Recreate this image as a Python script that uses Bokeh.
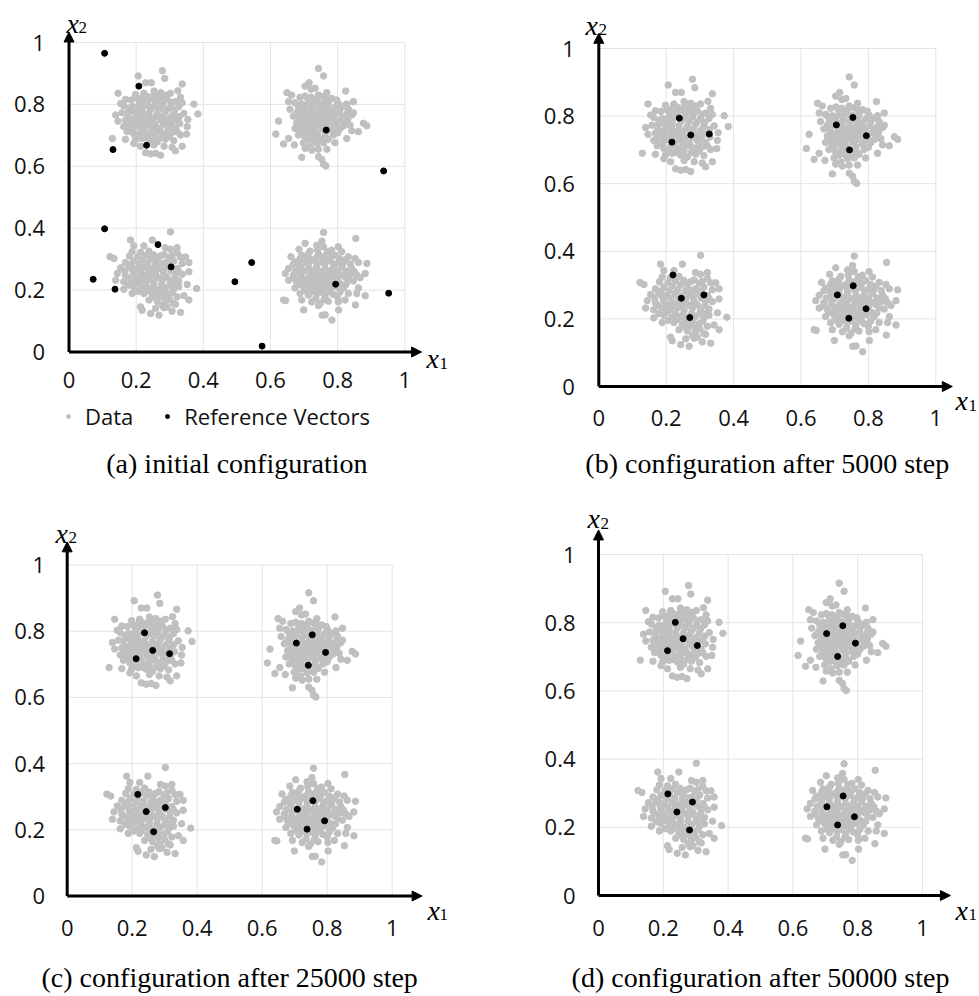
from bokeh.plotting import figure
from bokeh.layouts import column, row
from bokeh.models import (Arrow, NormalHead, Label, Legend, LegendItem,
                          FixedTicker, NumeralTickFormatter)
from bokeh.embed import file_html
from bokeh.resources import INLINE

# ---------------- data ----------------
TICKS = [0, 0.2, 0.4, 0.6, 0.8, 1]
TICK_LABELS = ["0", "0.2", "0.4", "0.6", "0.8", "1"]

cluster_tl = [
    (0.278, 0.909), (0.206, 0.892), (0.285, 0.884), (0.228, 0.870), (0.245, 0.870), (0.337, 0.866),
    (0.146, 0.836), (0.198, 0.832), (0.223, 0.836), (0.253, 0.843), (0.273, 0.838), (0.324, 0.844),
    (0.221, 0.827), (0.263, 0.830), (0.287, 0.830), (0.302, 0.836),
    (0.168, 0.816), (0.185, 0.814), (0.203, 0.819), (0.223, 0.814), (0.243, 0.819), (0.268, 0.816),
    (0.292, 0.816), (0.332, 0.823), (0.317, 0.809), (0.337, 0.805), (0.154, 0.803),
    (0.163, 0.796), (0.188, 0.793), (0.208, 0.798), (0.233, 0.798), (0.253, 0.793), (0.278, 0.798),
    (0.302, 0.793), (0.327, 0.793), (0.372, 0.801),
    (0.139, 0.766), (0.158, 0.773), (0.178, 0.776), (0.198, 0.771), (0.218, 0.776), (0.238, 0.771),
    (0.263, 0.771), (0.287, 0.776), (0.312, 0.771), (0.342, 0.771), (0.384, 0.769),
    (0.146, 0.746), (0.168, 0.749), (0.188, 0.751), (0.208, 0.744), (0.228, 0.751), (0.248, 0.744),
    (0.273, 0.751), (0.292, 0.744), (0.317, 0.749), (0.354, 0.751),
    (0.163, 0.728), (0.183, 0.722), (0.203, 0.730), (0.223, 0.722), (0.243, 0.730), (0.268, 0.722),
    (0.292, 0.728), (0.317, 0.722), (0.352, 0.728),
    (0.173, 0.712), (0.193, 0.704), (0.213, 0.709), (0.238, 0.701), (0.258, 0.712), (0.283, 0.704),
    (0.307, 0.709), (0.332, 0.701), (0.350, 0.704),
    (0.129, 0.690), (0.168, 0.687), (0.198, 0.685), (0.218, 0.690), (0.243, 0.685), (0.263, 0.679),
    (0.287, 0.687), (0.312, 0.683),
    (0.193, 0.674), (0.213, 0.665), (0.253, 0.669), (0.283, 0.665), (0.307, 0.661), (0.337, 0.665),
    (0.228, 0.644), (0.243, 0.640), (0.258, 0.642), (0.273, 0.636), (0.317, 0.650),
    (0.178, 0.786), (0.198, 0.783), (0.218, 0.788), (0.243, 0.784), (0.268, 0.786), (0.292, 0.783),
    (0.315, 0.782), (0.175, 0.760), (0.196, 0.758), (0.217, 0.762), (0.238, 0.758), (0.258, 0.760),
    (0.281, 0.762), (0.303, 0.758), (0.328, 0.760), (0.173, 0.738), (0.194, 0.737), (0.216, 0.736),
    (0.236, 0.740), (0.257, 0.736), (0.281, 0.738), (0.305, 0.736), (0.330, 0.738), (0.190, 0.716),
    (0.226, 0.714), (0.248, 0.720), (0.272, 0.712), (0.296, 0.716), (0.322, 0.712), (0.205, 0.696),
    (0.228, 0.692), (0.253, 0.696), (0.275, 0.693), (0.298, 0.697), (0.212, 0.806), (0.235, 0.810),
    (0.258, 0.807), (0.282, 0.808), (0.305, 0.805), (0.232, 0.826), (0.252, 0.828), (0.275, 0.825),
]

cluster_tr = [
    (0.743, 0.916), (0.758, 0.892), (0.715, 0.870), (0.703, 0.859), (0.733, 0.852), (0.721, 0.849),
    (0.768, 0.838), (0.824, 0.843),
    (0.649, 0.838), (0.663, 0.830), (0.688, 0.823), (0.703, 0.827), (0.721, 0.823), (0.743, 0.830),
    (0.758, 0.825), (0.783, 0.819), (0.797, 0.814),
    (0.654, 0.809), (0.673, 0.805), (0.693, 0.801), (0.713, 0.805), (0.733, 0.809), (0.753, 0.803),
    (0.773, 0.809), (0.802, 0.803), (0.827, 0.801), (0.847, 0.809),
    (0.658, 0.784), (0.683, 0.780), (0.703, 0.787), (0.723, 0.782), (0.743, 0.784), (0.763, 0.787),
    (0.783, 0.780), (0.807, 0.784), (0.832, 0.784), (0.847, 0.773),
    (0.668, 0.762), (0.688, 0.758), (0.713, 0.766), (0.733, 0.760), (0.753, 0.762), (0.773, 0.758),
    (0.792, 0.766), (0.817, 0.760), (0.842, 0.766),
    (0.624, 0.746), (0.678, 0.741), (0.698, 0.744), (0.718, 0.739), (0.738, 0.744), (0.758, 0.739),
    (0.778, 0.744), (0.797, 0.736), (0.822, 0.741), (0.837, 0.733), (0.877, 0.739), (0.887, 0.731),
    (0.673, 0.722), (0.693, 0.715), (0.713, 0.719), (0.733, 0.712), (0.753, 0.722), (0.783, 0.717),
    (0.807, 0.722), (0.842, 0.715), (0.862, 0.712),
    (0.616, 0.704), (0.654, 0.690), (0.683, 0.701), (0.703, 0.693), (0.723, 0.701), (0.743, 0.693),
    (0.763, 0.698), (0.787, 0.701), (0.827, 0.690),
    (0.639, 0.672), (0.671, 0.669), (0.698, 0.676), (0.718, 0.665), (0.738, 0.674), (0.758, 0.676),
    (0.792, 0.676),
    (0.703, 0.658), (0.723, 0.652), (0.743, 0.655), (0.768, 0.655),
    (0.693, 0.629), (0.743, 0.631), (0.753, 0.622), (0.758, 0.607), (0.765, 0.601),
    (0.683, 0.795), (0.703, 0.793), (0.725, 0.796), (0.748, 0.794), (0.770, 0.797), (0.792, 0.792),
    (0.818, 0.794), (0.678, 0.772), (0.700, 0.773), (0.722, 0.770), (0.745, 0.773), (0.765, 0.771),
    (0.785, 0.770), (0.805, 0.772), (0.828, 0.770), (0.688, 0.751), (0.708, 0.752), (0.728, 0.750),
    (0.748, 0.752), (0.768, 0.749), (0.788, 0.752), (0.810, 0.751), (0.830, 0.752), (0.690, 0.730),
    (0.710, 0.729), (0.728, 0.727), (0.745, 0.733), (0.768, 0.730), (0.790, 0.728), (0.818, 0.731),
    (0.698, 0.708), (0.720, 0.708), (0.740, 0.704), (0.763, 0.710), (0.800, 0.708), (0.730, 0.686),
    (0.750, 0.684), (0.772, 0.687), (0.713, 0.686), (0.738, 0.818), (0.768, 0.820), (0.712, 0.816),
]

cluster_bl = [
    (0.302, 0.388), (0.183, 0.362), (0.248, 0.362),
    (0.193, 0.343), (0.223, 0.343), (0.287, 0.337), (0.302, 0.332), (0.322, 0.337),
    (0.122, 0.308), (0.134, 0.302), (0.188, 0.324), (0.213, 0.322), (0.238, 0.326), (0.283, 0.315),
    (0.307, 0.311), (0.332, 0.307), (0.347, 0.307),
    (0.168, 0.289), (0.193, 0.294), (0.218, 0.297), (0.243, 0.302), (0.263, 0.297), (0.287, 0.289),
    (0.312, 0.294), (0.337, 0.286), (0.357, 0.289),
    (0.154, 0.272), (0.178, 0.275), (0.203, 0.270), (0.228, 0.275), (0.248, 0.268), (0.268, 0.272),
    (0.292, 0.275),
    (0.144, 0.254), (0.168, 0.248), (0.193, 0.254), (0.218, 0.248), (0.238, 0.254), (0.258, 0.248),
    (0.283, 0.251), (0.317, 0.254), (0.337, 0.251), (0.357, 0.259),
    (0.139, 0.232), (0.163, 0.227), (0.188, 0.232), (0.213, 0.227), (0.233, 0.232), (0.253, 0.225),
    (0.278, 0.232), (0.302, 0.227), (0.327, 0.229), (0.352, 0.218),
    (0.163, 0.203), (0.193, 0.211), (0.218, 0.205), (0.243, 0.207), (0.263, 0.200), (0.287, 0.207),
    (0.312, 0.203), (0.327, 0.211), (0.380, 0.205),
    (0.188, 0.189), (0.223, 0.189), (0.248, 0.184), (0.273, 0.182), (0.297, 0.186), (0.322, 0.178),
    (0.342, 0.182),
    (0.238, 0.168), (0.263, 0.164), (0.287, 0.162), (0.312, 0.157), (0.357, 0.168),
    (0.213, 0.146), (0.278, 0.151), (0.292, 0.146), (0.317, 0.154),
    (0.218, 0.135), (0.258, 0.141), (0.283, 0.143), (0.307, 0.132), (0.332, 0.128),
    (0.243, 0.124), (0.268, 0.119),
    (0.180, 0.310), (0.205, 0.308), (0.228, 0.312), (0.252, 0.314), (0.272, 0.310), (0.298, 0.305),
    (0.322, 0.320), (0.185, 0.282), (0.210, 0.284), (0.235, 0.286), (0.258, 0.284), (0.280, 0.285),
    (0.302, 0.282), (0.322, 0.270), (0.166, 0.262), (0.190, 0.263), (0.214, 0.261), (0.236, 0.264),
    (0.258, 0.260), (0.280, 0.262), (0.304, 0.262), (0.326, 0.262), (0.176, 0.240), (0.200, 0.242),
    (0.225, 0.240), (0.246, 0.240), (0.268, 0.240), (0.292, 0.242), (0.315, 0.240), (0.178, 0.216),
    (0.202, 0.220), (0.228, 0.215), (0.252, 0.215), (0.276, 0.217), (0.300, 0.216), (0.318, 0.216),
    (0.206, 0.196), (0.232, 0.198), (0.256, 0.194), (0.278, 0.195), (0.308, 0.193), (0.255, 0.176),
    (0.283, 0.175), (0.300, 0.170),
]

cluster_br = [
    (0.758, 0.386), (0.854, 0.367), (0.753, 0.358),
    (0.703, 0.351), (0.738, 0.345), (0.758, 0.340), (0.802, 0.340), (0.685, 0.332), (0.718, 0.326),
    (0.782, 0.329), (0.812, 0.324),
    (0.661, 0.308), (0.693, 0.313), (0.713, 0.318), (0.743, 0.315), (0.763, 0.311), (0.792, 0.313),
    (0.832, 0.308), (0.852, 0.302),
    (0.673, 0.291), (0.703, 0.289), (0.723, 0.297), (0.753, 0.291), (0.778, 0.294), (0.802, 0.289),
    (0.822, 0.297), (0.862, 0.289), (0.887, 0.286),
    (0.654, 0.270), (0.688, 0.275), (0.713, 0.270), (0.738, 0.275), (0.763, 0.268), (0.787, 0.272),
    (0.812, 0.275), (0.842, 0.270),
    (0.644, 0.254), (0.668, 0.248), (0.693, 0.254), (0.718, 0.248), (0.738, 0.254), (0.763, 0.248),
    (0.787, 0.254), (0.812, 0.248), (0.837, 0.251), (0.857, 0.248), (0.882, 0.254),
    (0.654, 0.232), (0.678, 0.227), (0.703, 0.232), (0.723, 0.227), (0.743, 0.232), (0.768, 0.225),
    (0.787, 0.229), (0.807, 0.221), (0.832, 0.232), (0.847, 0.229), (0.867, 0.240),
    (0.673, 0.207), (0.698, 0.211), (0.718, 0.205), (0.738, 0.211), (0.758, 0.205), (0.778, 0.200),
    (0.817, 0.207), (0.862, 0.207),
    (0.688, 0.189), (0.713, 0.184), (0.738, 0.189), (0.763, 0.182), (0.787, 0.186), (0.807, 0.194),
    (0.832, 0.189), (0.857, 0.189), (0.882, 0.182),
    (0.639, 0.168), (0.645, 0.166), (0.693, 0.168), (0.723, 0.162), (0.748, 0.157), (0.772, 0.164),
    (0.802, 0.162), (0.822, 0.168), (0.853, 0.152),
    (0.743, 0.150), (0.699, 0.136), (0.803, 0.136), (0.754, 0.119), (0.763, 0.120), (0.783, 0.103),
    (0.688, 0.302), (0.710, 0.305), (0.735, 0.303), (0.758, 0.302), (0.780, 0.306), (0.806, 0.302),
    (0.770, 0.324), (0.740, 0.330), (0.668, 0.283), (0.690, 0.282), (0.713, 0.284), (0.738, 0.286),
    (0.762, 0.283), (0.790, 0.283), (0.815, 0.285), (0.838, 0.284), (0.675, 0.261), (0.700, 0.262),
    (0.725, 0.262), (0.750, 0.260), (0.775, 0.262), (0.800, 0.261), (0.825, 0.262), (0.850, 0.260),
    (0.668, 0.240), (0.690, 0.242), (0.713, 0.240), (0.735, 0.242), (0.756, 0.238), (0.778, 0.241),
    (0.800, 0.239), (0.822, 0.242), (0.688, 0.220), (0.712, 0.216), (0.735, 0.220), (0.756, 0.218),
    (0.776, 0.214), (0.795, 0.212), (0.825, 0.218), (0.705, 0.197), (0.726, 0.195), (0.750, 0.194),
    (0.775, 0.196), (0.800, 0.178), (0.735, 0.173), (0.760, 0.170),
]

# reference vectors of each configuration
ref_initial = [
    (0.106, 0.965), (0.208, 0.859), (0.131, 0.654), (0.231, 0.668), (0.766, 0.717), (0.937, 0.585),
    (0.106, 0.398), (0.265, 0.347), (0.304, 0.275), (0.072, 0.235), (0.137, 0.203), (0.494, 0.227),
    (0.544, 0.289), (0.794, 0.219), (0.952, 0.190), (0.575, 0.019),
]
ref_5000 = [
    (0.239, 0.794), (0.273, 0.744), (0.328, 0.747), (0.217, 0.723),
    (0.705, 0.774), (0.754, 0.796), (0.794, 0.742), (0.744, 0.700),
    (0.220, 0.330), (0.245, 0.261), (0.312, 0.271), (0.270, 0.204),
    (0.708, 0.271), (0.755, 0.298), (0.793, 0.230), (0.742, 0.202),
]
ref_25000 = [
    (0.238, 0.795), (0.263, 0.742), (0.315, 0.732), (0.212, 0.717),
    (0.705, 0.764), (0.754, 0.789), (0.795, 0.736), (0.742, 0.697),
    (0.217, 0.307), (0.243, 0.255), (0.302, 0.267), (0.266, 0.194),
    (0.708, 0.262), (0.756, 0.288), (0.792, 0.227), (0.738, 0.202),
]
ref_50000 = [
    (0.237, 0.801), (0.261, 0.753), (0.305, 0.733), (0.213, 0.718),
    (0.704, 0.768), (0.754, 0.791), (0.793, 0.740), (0.738, 0.701),
    (0.214, 0.298), (0.242, 0.245), (0.290, 0.274), (0.281, 0.192),
    (0.705, 0.260), (0.755, 0.292), (0.790, 0.231), (0.738, 0.207),
]

captions = [
    "(a) initial configuration",
    "(b) configuration after 5000 step",
    "(c) configuration after 25000 step",
    "(d) configuration after 50000 step",
]

data_points = cluster_tl + cluster_tr + cluster_bl + cluster_br
data_x = [p[0] for p in data_points]
data_y = [p[1] for p in data_points]

# ---------------- layout geometry (pixels inside each figure) ----------------
geoms = [
    dict(W=489, H=480, x0=68.5, sx=335.8, y0=351.5, sy=309.5, xtip=1.05, ytip=1.034,
         x1=(426, 358, 439, 363), x2=(66, 23, 78, 27), cap=463, xs=20, ys=24, legend=True),
    dict(W=490, H=480, x0=109.3, sx=337.0, y0=386.0, sy=338.0, xtip=1.049, ytip=1.045,
         x1=(466, 400, 479, 405), x2=(96, 25, 109, 29), cap=463, xs=23, ys=24, legend=False),
    dict(W=489, H=516, x0=66.7, sx=325.0, y0=415.5, sy=331.0, xtip=1.092, ytip=1.07,
         x1=(427, 430, 439, 434), x2=(55, 53, 68, 57), cap=497, xs=24, ys=22, legend=False),
    dict(W=490, H=516, x0=109.0, sx=324.0, y0=415.0, sy=341.0, xtip=1.086, ytip=1.072,
         x1=(466, 430, 479, 434), x2=(98, 38, 111, 43), cap=497, xs=24, ys=23, legend=False),
]

TICK_FONT = "Open Sans"
SERIF = "Liberation Serif"
GRAY = "#c0c0c0"


def make_panel(g, refs, caption):
    W, H = g["W"], g["H"]
    x0, sx, y0, sy = g["x0"], g["sx"], g["y0"], g["sy"]
    X = lambda px: (px - x0) / sx
    Y = lambda py: (y0 - py) / sy
    p = figure(width=W, height=H, x_range=(X(0), X(W)), y_range=(Y(H), Y(0)),
               output_backend="svg", toolbar_location=None, min_border=0, title=None)
    p.outline_line_color = None
    p.background_fill_color = "white"
    p.grid.visible = False

    for ax in (p.xaxis[0], p.yaxis[0]):
        ax.fixed_location = 0
        ax.ticker = FixedTicker(ticks=TICKS)
        ax.formatter = NumeralTickFormatter(format="0.[0]")
        ax.major_label_overrides = dict(zip(TICKS, TICK_LABELS))
        ax.axis_line_color = None
        ax.major_tick_line_color = None
        ax.minor_tick_line_color = None
        ax.major_tick_out = 0
        ax.major_tick_in = 0
        ax.major_label_text_font = TICK_FONT
        ax.major_label_text_font_size = "22px"
        ax.major_label_text_color = "#111111"
    p.xaxis[0].major_label_standoff = g["xs"]
    p.yaxis[0].major_label_standoff = g["ys"]

    gt = TICKS[1:]
    vg = p.segment(x0=gt, y0=[TICKS[0]] * len(gt), x1=gt, y1=[TICKS[-1]] * len(gt),
                   line_color="#e4e4e4", line_width=1)
    hg = p.segment(x0=[TICKS[0]] * len(gt), y0=gt, x1=[TICKS[-1]] * len(gt), y1=gt,
                   line_color="#e4e4e4", line_width=1)
    vg.level = "underlay"
    hg.level = "underlay"

    for (xe, ye) in ((g["xtip"], 0), (0, g["ytip"])):
        arr = Arrow(end=NormalHead(size=10, fill_color="black", line_color="black", line_width=1),
                    x_start=0, y_start=0, x_end=xe, y_end=ye, line_width=3, line_color="black")
        arr.level = "underlay"
        p.add_layout(arr)

    gray = p.scatter(data_x, data_y, size=6.5, color=GRAY, marker="circle")
    black = p.scatter([r[0] for r in refs], [r[1] for r in refs], size=6, color="black",
                      marker="circle")

    # axis names x1 / x2
    for (lx, lb, sxp, sb), sub in ((g["x1"], "1"), (g["x2"], "2")):
        p.add_layout(Label(x=X(lx), y=Y(lb), text="x", text_font=SERIF, text_font_style="italic",
                           text_font_size="28px", text_align="left", text_baseline="alphabetic",
                           text_color="black"))
        p.add_layout(Label(x=X(sxp), y=Y(sb), text=sub, text_font=SERIF,
                           text_font_size="17px", text_align="left", text_baseline="alphabetic",
                           text_color="black"))

    p.add_layout(Label(x=0.5, y=Y(g["cap"]), text=caption, text_font=SERIF,
                       text_font_size="28px", text_align="center", text_baseline="middle",
                       text_color="black"))

    if g["legend"]:
        legend = Legend(items=[LegendItem(label="Data", renderers=[gray]),
                               LegendItem(label="Reference Vectors", renderers=[black])],
                        orientation="horizontal", location=(63, 49), padding=0, margin=0,
                        spacing=29, glyph_width=10, glyph_height=20, label_standoff=12,
                        border_line_color=None, background_fill_alpha=0,
                        label_text_font=TICK_FONT, label_text_font_size="22px",
                        label_text_color="#111111")
        p.add_layout(legend)
    return p


refs_all = [ref_initial, ref_5000, ref_25000, ref_50000]
panels = [make_panel(g, r, c) for g, r, c in zip(geoms, refs_all, captions)]
layout = column(row(panels[0], panels[1]), row(panels[2], panels[3]))

open("out.html", "w").write(file_html(layout, INLINE))
